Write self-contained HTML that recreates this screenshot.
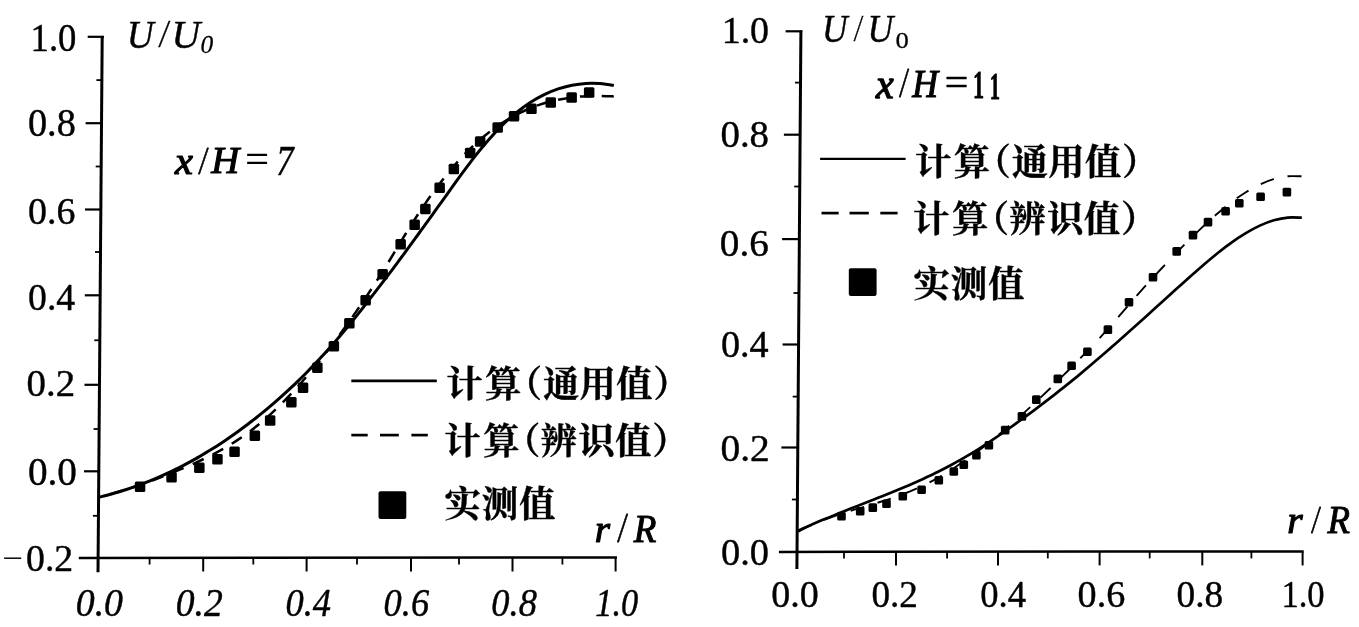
<!DOCTYPE html>
<html lang="zh"><head><meta charset="utf-8"><title>U/U0 velocity profiles, x/H = 7 and x/H = 11</title>
<style>html,body{margin:0;padding:0;background:#fff}body{width:1359px;height:627px;overflow:hidden;font-family:"Liberation Serif",serif}svg{display:block}svg text{font-family:"Liberation Serif",serif}.t{opacity:.999;stroke:#000;stroke-width:.45px;stroke-linejoin:round}svg .lg text{font-family:"Liberation Serif","Noto Serif CJK SC",serif;font-weight:bold;font-size:36.4px;fill:#000;stroke:#000;stroke-width:.4px;stroke-linejoin:round}</style></head><body>
<svg width="1359" height="627" viewBox="0 0 1359 627" fill="#000" stroke="#000" stroke-linecap="butt">
<rect x="0" y="0" width="1359" height="627" fill="#fff" stroke="none"/>
<g id="chart-left">
<line x1="102.2" y1="36" x2="98" y2="572.2" stroke-width="3.0"/>
<line x1="87.7" y1="36.8" x2="104" y2="36.8" stroke-width="2.2"/>
<line x1="85.6" y1="123.2" x2="101.5" y2="123.2" stroke-width="2.2"/>
<line x1="85" y1="209.5" x2="100.8" y2="209.5" stroke-width="2.2"/>
<line x1="84.8" y1="295.3" x2="100.2" y2="295.3" stroke-width="2.2"/>
<line x1="84.5" y1="384.8" x2="99.5" y2="384.8" stroke-width="2.2"/>
<line x1="84" y1="471.3" x2="98.8" y2="471.3" stroke-width="2.2"/>
<line x1="96.4" y1="80.1" x2="101.9" y2="80.1" stroke-width="1.8"/>
<line x1="95.7" y1="166.5" x2="101.2" y2="166.5" stroke-width="1.8"/>
<line x1="95" y1="252" x2="100.5" y2="252" stroke-width="1.8"/>
<line x1="94.3" y1="340.3" x2="99.8" y2="340.3" stroke-width="1.8"/>
<line x1="93.6" y1="429" x2="99.1" y2="429" stroke-width="1.8"/>
<line x1="92.9" y1="515.8" x2="98.4" y2="515.8" stroke-width="1.8"/>
<line x1="78.8" y1="558" x2="617" y2="557.4" stroke-width="2.5"/>
<line x1="203.2" y1="558" x2="203.2" y2="571.5" stroke-width="2.0"/>
<line x1="306.6" y1="558" x2="306.6" y2="571.5" stroke-width="2.0"/>
<line x1="411" y1="558" x2="411" y2="571.5" stroke-width="2.0"/>
<line x1="512.5" y1="558" x2="512.5" y2="571.5" stroke-width="2.0"/>
<line x1="615.6" y1="558" x2="615.6" y2="571.5" stroke-width="2.0"/>
<line x1="149.6" y1="558" x2="149.6" y2="564.5" stroke-width="1.8"/>
<line x1="253.3" y1="558" x2="253.3" y2="564.5" stroke-width="1.8"/>
<line x1="357" y1="558" x2="357" y2="564.5" stroke-width="1.8"/>
<line x1="459" y1="558" x2="459" y2="564.5" stroke-width="1.8"/>
<line x1="562.4" y1="558" x2="562.4" y2="564.5" stroke-width="1.8"/>
<path d="M98.5 497.4C100.8 496.8 107.8 495.1 112.4 493.8C117.1 492.5 121.7 491 126.4 489.5C131 488 135.6 486.4 140.3 484.6C144.9 482.9 149.6 481.1 154.2 479.1C158.9 477.2 163.5 475.1 168.1 472.9C172.8 470.8 177.4 468.5 182.1 466.1C186.7 463.7 191.3 461.2 196 458.6C200.6 455.9 205.3 453.2 209.9 450.3C214.6 447.5 219.2 444.5 223.8 441.4C228.5 438.3 233.1 435 237.8 431.7C242.4 428.3 247.1 424.9 251.7 421.3C256.3 417.7 261 413.9 265.6 410.1C270.3 406.2 274.9 402.3 279.6 398.1C284.2 394 288.8 389.8 293.5 385.4C298.1 380.9 302.8 376.4 307.4 371.7C312 367 316.7 362.1 321.3 357.1C326 352.1 330.6 346.9 335.3 341.5C339.9 336.2 344.5 330.6 349.2 325C353.8 319.3 358.5 313.5 363.1 307.6C367.8 301.7 372.4 295.7 377 289.7C381.7 283.6 386.3 277.5 391 271.3C395.6 265.1 400.3 258.9 404.9 252.6C409.5 246.3 414.2 239.9 418.8 233.5C423.5 227.2 428.1 220.7 432.7 214.3C437.4 207.8 442 201.2 446.7 194.8C451.3 188.3 456 181.7 460.6 175.4C465.2 169.1 469.9 162.8 474.5 156.8C479.2 150.9 483.8 145.2 488.5 139.9C493.1 134.6 497.7 129.7 502.4 125.1C507 120.6 511.7 116.5 516.3 112.7C521 109 525.6 105.6 530.2 102.6C534.9 99.6 539.5 97 544.2 94.7C548.8 92.4 553.4 90.5 558.1 88.9C562.7 87.3 567.4 86.1 572 85.2C576.7 84.3 581.3 83.7 585.9 83.4C590.6 83.1 595.2 83.2 599.9 83.5C604.5 83.9 611.5 85.1 613.8 85.5" fill="none" stroke-width="3.0"/>
<path d="M98.5 497.3C100.8 496.7 107.8 494.9 112.4 493.6C117.1 492.2 121.7 490.8 126.4 489.4C131 487.9 135.6 486.4 140.3 484.8C144.9 483.2 149.6 481.5 154.2 479.8C158.9 478.1 163.5 476.3 168.1 474.4C172.8 472.6 177.4 470.6 182.1 468.7C186.7 466.7 191.3 464.7 196 462.6C200.6 460.4 205.3 458.3 209.9 455.9C214.6 453.6 219.2 451.1 223.8 448.5C228.5 445.8 233.1 443 237.8 439.9C242.4 436.8 247.1 433.6 251.7 430C256.3 426.4 261 422.6 265.6 418.6C270.3 414.5 274.9 410.2 279.6 405.6C284.2 401.1 288.8 396.3 293.5 391.3C298.1 386.3 302.8 381.1 307.4 375.6C312 370.2 316.7 364.6 321.3 358.7C326 352.9 330.6 346.9 335.3 340.7C339.9 334.5 344.5 328.1 349.2 321.6C353.8 315 358.5 308.3 363.1 301.4C367.8 294.6 372.4 287.6 377 280.4C381.7 273.1 386.3 265.6 391 258C395.6 250.5 400.3 242.5 404.9 235C409.5 227.5 414.2 220.1 418.8 213.1C423.5 206.1 428.1 199.3 432.7 192.9C437.4 186.5 442 180.4 446.7 174.6C451.3 168.9 456 163.5 460.6 158.5C465.2 153.5 469.9 148.8 474.5 144.5C479.2 140.3 483.8 136.3 488.5 132.7C493.1 129.1 497.7 125.8 502.4 122.8C507 119.8 511.7 117.1 516.3 114.7C521 112.3 525.6 110.1 530.2 108.2C534.9 106.3 539.5 104.7 544.2 103.3C548.8 101.9 553.4 100.7 558.1 99.7C562.7 98.8 567.4 98 572 97.4C576.7 96.8 581.3 96.4 585.9 96.2C590.6 95.9 595.2 95.8 599.9 95.9C604.5 95.9 611.5 96.3 613.8 96.4" fill="none" stroke-width="2.5" stroke-dasharray="12 10" stroke-dashoffset="9.9"/>
<g stroke="none">
<rect x="134.8" y="481.6" width="10.5" height="10.5" rx="1.5"/>
<rect x="166.3" y="471.9" width="10.5" height="10.5" rx="1.5"/>
<rect x="194.1" y="462.6" width="10.5" height="10.5" rx="1.5"/>
<rect x="212.2" y="454.1" width="10.5" height="10.5" rx="1.5"/>
<rect x="229.3" y="446.4" width="10.5" height="10.5" rx="1.5"/>
<rect x="249.6" y="430.4" width="10.5" height="10.5" rx="1.5"/>
<rect x="264.9" y="415.2" width="10.5" height="10.5" rx="1.5"/>
<rect x="286.1" y="397.1" width="10.5" height="10.5" rx="1.5"/>
<rect x="297.8" y="382.6" width="10.5" height="10.5" rx="1.5"/>
<rect x="312.1" y="362.4" width="10.5" height="10.5" rx="1.5"/>
<rect x="328.6" y="341.1" width="10.5" height="10.5" rx="1.5"/>
<rect x="344.1" y="317.9" width="10.5" height="10.5" rx="1.5"/>
<rect x="360.4" y="294.9" width="10.5" height="10.5" rx="1.5"/>
<rect x="377.4" y="269.1" width="10.5" height="10.5" rx="1.5"/>
<rect x="395.4" y="239.1" width="10.5" height="10.5" rx="1.5"/>
<rect x="409.4" y="219.6" width="10.5" height="10.5" rx="1.5"/>
<rect x="420.1" y="203.7" width="10.5" height="10.5" rx="1.5"/>
<rect x="434.4" y="182.4" width="10.5" height="10.5" rx="1.5"/>
<rect x="448.6" y="163.7" width="10.5" height="10.5" rx="1.5"/>
<rect x="464.9" y="147.8" width="10.5" height="10.5" rx="1.5"/>
<rect x="474.9" y="136.2" width="10.5" height="10.5" rx="1.5"/>
<rect x="492.4" y="122.3" width="10.5" height="10.5" rx="1.5"/>
<rect x="508.8" y="111" width="10.5" height="10.5" rx="1.5"/>
<rect x="526.2" y="103.5" width="10.5" height="10.5" rx="1.5"/>
<rect x="545.5" y="97.3" width="10.5" height="10.5" rx="1.5"/>
<rect x="566.4" y="92.3" width="10.5" height="10.5" rx="1.5"/>
<rect x="583.9" y="87.2" width="10.5" height="10.5" rx="1.5"/>
</g>
<g class="t">
<text transform="translate(30.6 51.3) scale(0.9164 0.9975)" font-size="40">1.0</text>
<text transform="translate(28 136) scale(0.9563 0.9791)" font-size="40">0.8</text>
<text transform="translate(28.1 224.1) scale(0.9474 0.9681)" font-size="40">0.6</text>
<text transform="translate(28.1 309.5) scale(0.9425 0.9644)" font-size="40">0.4</text>
<text transform="translate(26.6 395.5) scale(0.9726 0.9644)" font-size="40">0.2</text>
<text transform="translate(27.9 485.4) scale(0.9797 0.9938)" font-size="40">0.0</text>
<text transform="translate(26 570.8) scale(0.9445 0.9607)" font-size="40">0.2</text>
<text transform="translate(1.9 568.2) scale(0.9187 0.7529)" font-size="40" style="stroke-width:0px">−</text>
<text transform="translate(75.7 616.2) scale(0.9468 0.9865)" font-size="40" font-style="italic">0.0</text>
<text transform="translate(175.7 616.2) scale(0.9416 0.9865)" font-size="40" font-style="italic">0.2</text>
<text transform="translate(285.4 616.2) scale(0.9126 0.9865)" font-size="40" font-style="italic">0.4</text>
<text transform="translate(383.6 616.2) scale(0.9096 0.9865)" font-size="40" font-style="italic">0.6</text>
<text transform="translate(491.3 616.2) scale(0.9124 0.9865)" font-size="40" font-style="italic">0.8</text>
<text transform="translate(595.3 616.2) scale(0.8592 0.9865)" font-size="40" font-style="italic">1.0</text>
<text transform="translate(126.8 47.9) scale(0.9349 1.0007)" font-size="40" font-style="italic">U</text>
<text transform="translate(159.8 46.9) scale(0.7439 1.0053)" font-size="40" font-style="italic">/</text>
<text transform="translate(171.6 47.9) scale(0.9933 1.0007)" font-size="40" font-style="italic">U</text>
<text transform="translate(200.6 53.4) scale(0.6351 0.6113)" font-size="40" font-style="italic">0</text>
<text transform="translate(175.1 173.6) scale(1.0084 0.9369)" font-size="40" font-style="italic" style="stroke-width:1.3px">x</text>
<text transform="translate(199.4 173.5) scale(0.6377 1.0053)" font-size="40" font-style="italic" style="stroke-width:0.8px">/</text>
<text transform="translate(211.2 172.5) scale(0.9706 0.9431)" font-size="40" font-style="italic" style="stroke-width:1.2px">H</text>
<text transform="translate(242.6 172.1) scale(1.0530 0.9300)" font-size="40" font-style="italic">=</text>
<text transform="translate(276.3 175) scale(0.8674 1.0347)" font-size="40" font-style="italic">7</text>
<text transform="translate(594.7 541.8) scale(0.9813 0.9444)" font-size="40" font-style="italic" style="stroke-width:1.2px">r</text>
<text transform="translate(618.4 542.4) scale(0.6627 1.0352)" font-size="40" font-style="italic" style="stroke-width:0.8px">/</text>
<text transform="translate(633.8 541.5) scale(0.9256 1.0156)" font-size="40" font-style="italic" style="stroke-width:1.1px">R</text>
</g>
<g transform="translate(0 0)">
<line x1="351.3" y1="380.8" x2="436.8" y2="380.8" stroke-width="2.7"/>
<line x1="351.3" y1="435.1" x2="367.7" y2="435.1" stroke-width="2.7"/>
<line x1="380" y1="435.1" x2="398.8" y2="435.1" stroke-width="2.7"/>
<line x1="411.4" y1="435.1" x2="427.8" y2="435.1" stroke-width="2.7"/>
<rect x="378.5" y="491.2" width="27.8" height="27.8" rx="2" stroke="none"/>
<g class="lg">
<text x="446.3 485 505.7 542.9 579.5 615.9 653.2" y="397.1">计算（通用值）</text>
<text x="444.2 483.2 503.9 540.5 578.2 615 652.3" y="453.8">计算（辨识值）</text>
<text x="444.5 481.7 518.9" y="517.1">实测值</text>
</g>
</g>
</g>
<g id="chart-right">
<line x1="800.9" y1="30.5" x2="796.9" y2="569" stroke-width="3.0"/>
<line x1="785.6" y1="31.3" x2="802.3" y2="31.3" stroke-width="2.2"/>
<line x1="783.9" y1="134.7" x2="800.1" y2="134.7" stroke-width="2.2"/>
<line x1="782.1" y1="239.1" x2="799.4" y2="239.1" stroke-width="2.2"/>
<line x1="782.6" y1="344.5" x2="798.6" y2="344.5" stroke-width="2.2"/>
<line x1="781.4" y1="447.5" x2="797.8" y2="447.5" stroke-width="2.2"/>
<line x1="795" y1="82.6" x2="800.5" y2="82.6" stroke-width="1.8"/>
<line x1="794.2" y1="186.5" x2="799.7" y2="186.5" stroke-width="1.8"/>
<line x1="793.5" y1="293" x2="799" y2="293" stroke-width="1.8"/>
<line x1="792.7" y1="396.6" x2="798.2" y2="396.6" stroke-width="1.8"/>
<line x1="791.9" y1="499.5" x2="797.4" y2="499.5" stroke-width="1.8"/>
<line x1="778.9" y1="551.9" x2="1303.7" y2="551.4" stroke-width="2.5"/>
<line x1="896" y1="551.9" x2="896" y2="565.4" stroke-width="2.0"/>
<line x1="998" y1="551.9" x2="998" y2="565.4" stroke-width="2.0"/>
<line x1="1099.6" y1="551.9" x2="1099.6" y2="565.4" stroke-width="2.0"/>
<line x1="1202.3" y1="551.9" x2="1202.3" y2="565.4" stroke-width="2.0"/>
<line x1="1302.6" y1="551.9" x2="1302.6" y2="565.4" stroke-width="2.0"/>
<line x1="844" y1="551.9" x2="844" y2="558.4" stroke-width="1.8"/>
<line x1="947.1" y1="551.9" x2="947.1" y2="558.4" stroke-width="1.8"/>
<line x1="1047.8" y1="551.9" x2="1047.8" y2="558.4" stroke-width="1.8"/>
<line x1="1149.7" y1="551.9" x2="1149.7" y2="558.4" stroke-width="1.8"/>
<line x1="1251.4" y1="551.9" x2="1251.4" y2="558.4" stroke-width="1.8"/>
<path d="M797.5 531C799.8 529.9 806.8 526.7 811.5 524.7C816.2 522.7 820.8 520.7 825.5 518.8C830.2 516.8 834.9 515 839.5 513.1C844.2 511.2 848.9 509.4 853.5 507.5C858.2 505.7 862.9 503.9 867.5 502.1C872.2 500.2 876.9 498.4 881.5 496.5C886.2 494.7 890.9 492.8 895.6 490.8C900.2 488.9 904.9 486.9 909.6 484.9C914.2 482.9 918.9 480.8 923.6 478.7C928.2 476.5 932.9 474.3 937.6 472C942.3 469.6 946.9 467.2 951.6 464.7C956.3 462.2 960.9 459.6 965.6 456.9C970.3 454.1 974.9 451.3 979.6 448.3C984.3 445.4 988.9 442.3 993.6 439.1C998.3 436 1003 432.8 1007.6 429.5C1012.3 426.2 1017 422.8 1021.6 419.4C1026.3 416 1031 412.6 1035.6 409.1C1040.3 405.6 1045 402 1049.7 398.4C1054.3 394.8 1059 391.2 1063.7 387.4C1068.3 383.7 1073 379.9 1077.7 376.1C1082.3 372.2 1087 368.3 1091.7 364.3C1096.3 360.3 1101 356.3 1105.7 352.2C1110.4 348.2 1115 344.1 1119.7 339.9C1124.4 335.8 1129 331.6 1133.7 327.5C1138.4 323.3 1143 319.1 1147.7 314.9C1152.4 310.7 1157 306.5 1161.7 302.3C1166.4 298.1 1171.1 293.9 1175.7 289.6C1180.4 285.4 1185.1 281.2 1189.7 277C1194.4 272.9 1199.1 268.7 1203.7 264.7C1208.4 260.7 1213.1 256.8 1217.8 253C1222.4 249.3 1227.1 245.7 1231.8 242.4C1236.4 239 1241.1 235.9 1245.8 233.1C1250.4 230.3 1255.1 227.8 1259.8 225.6C1264.4 223.5 1269.1 221.7 1273.8 220.3C1278.5 219 1283.1 218 1287.8 217.6C1292.5 217.1 1299.5 217.7 1301.8 217.7" fill="none" stroke-width="2.7"/>
<path d="M797.5 532.1C799.8 530.9 806.8 527.2 811.5 525.1C816.2 523 820.8 521.1 825.5 519.3C830.2 517.5 834.8 515.9 839.5 514.4C844.2 512.8 848.8 511.4 853.5 509.9C858.2 508.5 862.8 507.2 867.5 505.8C872.2 504.4 876.8 503 881.5 501.5C886.2 500.1 890.8 498.6 895.5 496.9C900.2 495.3 904.8 493.6 909.5 491.7C914.2 489.7 918.8 487.7 923.5 485.4C928.2 483.2 932.8 480.7 937.5 478.1C942.2 475.4 946.8 472.6 951.5 469.6C956.2 466.6 960.8 463.5 965.5 460.2C970.2 456.9 974.8 453.5 979.5 450C984.2 446.4 988.8 442.8 993.5 439C998.2 435.2 1002.8 431.3 1007.5 427.4C1012.2 423.4 1016.8 419.3 1021.5 415.1C1026.2 410.9 1030.8 406.6 1035.5 402.3C1040.2 397.9 1044.8 393.5 1049.5 389C1054.2 384.5 1058.8 379.9 1063.5 375.2C1068.2 370.6 1072.8 365.9 1077.5 361.1C1082.2 356.4 1086.8 351.6 1091.5 346.7C1096.2 341.8 1100.8 336.9 1105.5 331.7C1110.2 326.5 1114.8 321.1 1119.5 315.7C1124.2 310.3 1128.8 304.7 1133.5 299.4C1138.2 294.1 1142.8 288.8 1147.5 283.7C1152.2 278.5 1156.8 273.5 1161.5 268.5C1166.2 263.5 1170.8 258.6 1175.5 253.8C1180.2 249 1184.8 244.2 1189.5 239.6C1194.2 235 1198.8 230.5 1203.5 226.1C1208.2 221.8 1212.8 217.5 1217.5 213.6C1222.2 209.6 1226.8 205.8 1231.5 202.2C1236.2 198.7 1240.8 195.4 1245.5 192.5C1250.2 189.6 1254.8 186.9 1259.5 184.7C1264.2 182.5 1268.8 180.6 1273.5 179.2C1278.2 177.7 1282.8 176.7 1287.5 176.3C1292.2 175.8 1299.2 176.3 1301.5 176.3" fill="none" stroke-width="1.9" stroke-dasharray="14 14" stroke-dashoffset="26.6"/>
<g stroke="none">
<rect x="837.2" y="512" width="8.6" height="8.6" rx="1.5"/>
<rect x="855.9" y="507" width="8.6" height="8.6" rx="1.5"/>
<rect x="868.5" y="503.3" width="8.6" height="8.6" rx="1.5"/>
<rect x="882.2" y="499.5" width="8.6" height="8.6" rx="1.5"/>
<rect x="898.5" y="492" width="8.6" height="8.6" rx="1.5"/>
<rect x="917.3" y="485.5" width="8.6" height="8.6" rx="1.5"/>
<rect x="934.5" y="475.9" width="8.6" height="8.6" rx="1.5"/>
<rect x="949.5" y="467.2" width="8.6" height="8.6" rx="1.5"/>
<rect x="959.5" y="460.4" width="8.6" height="8.6" rx="1.5"/>
<rect x="972.1" y="450.9" width="8.6" height="8.6" rx="1.5"/>
<rect x="984.6" y="440.9" width="8.6" height="8.6" rx="1.5"/>
<rect x="1000.9" y="425.8" width="8.6" height="8.6" rx="1.5"/>
<rect x="1017.6" y="412.1" width="8.6" height="8.6" rx="1.5"/>
<rect x="1032" y="395.3" width="8.6" height="8.6" rx="1.5"/>
<rect x="1053.5" y="374.6" width="8.6" height="8.6" rx="1.5"/>
<rect x="1067.3" y="361.4" width="8.6" height="8.6" rx="1.5"/>
<rect x="1083.1" y="347.5" width="8.6" height="8.6" rx="1.5"/>
<rect x="1103.6" y="325.3" width="8.6" height="8.6" rx="1.5"/>
<rect x="1124.7" y="297.9" width="8.6" height="8.6" rx="1.5"/>
<rect x="1148.7" y="272.9" width="8.6" height="8.6" rx="1.5"/>
<rect x="1172.4" y="247.1" width="8.6" height="8.6" rx="1.5"/>
<rect x="1188.7" y="230.8" width="8.6" height="8.6" rx="1.5"/>
<rect x="1203.7" y="217.8" width="8.6" height="8.6" rx="1.5"/>
<rect x="1221.3" y="207" width="8.6" height="8.6" rx="1.5"/>
<rect x="1235" y="199" width="8.6" height="8.6" rx="1.5"/>
<rect x="1256.3" y="192.5" width="8.6" height="8.6" rx="1.5"/>
<rect x="1282.6" y="187.8" width="8.6" height="8.6" rx="1.5"/>
</g>
<g class="t">
<text transform="translate(721.7 42.8) scale(0.9475 0.9496)" font-size="40">1.0</text>
<text transform="translate(720.5 146.5) scale(0.9712 0.9570)" font-size="40">0.8</text>
<text transform="translate(719.8 255.5) scale(0.9792 0.9570)" font-size="40">0.6</text>
<text transform="translate(721 357.3) scale(0.9529 0.9681)" font-size="40">0.4</text>
<text transform="translate(720.5 461.2) scale(0.9855 0.9681)" font-size="40">0.2</text>
<text transform="translate(721 564.6) scale(0.9605 0.9644)" font-size="40">0.0</text>
<text transform="translate(771.2 606.6) scale(0.9499 0.9717)" font-size="40">0.0</text>
<text transform="translate(871.4 606.6) scale(0.9293 0.9717)" font-size="40">0.2</text>
<text transform="translate(980.3 606.6) scale(0.9153 0.9717)" font-size="40">0.4</text>
<text transform="translate(1077.6 606.6) scale(0.9538 0.9717)" font-size="40">0.6</text>
<text transform="translate(1176.6 606.6) scale(0.9328 0.9717)" font-size="40">0.8</text>
<text transform="translate(1281.4 606.6) scale(0.8630 0.9717)" font-size="40">1.0</text>
<text transform="translate(822 41.5) scale(0.8838 0.9819)" font-size="40" font-style="italic">U</text>
<text transform="translate(854.8 40.9) scale(0.6064 0.9717)" font-size="40" font-style="italic">/</text>
<text transform="translate(867.6 41.6) scale(0.8911 0.9856)" font-size="40" font-style="italic">U</text>
<text transform="translate(895.6 48) scale(0.6665 0.5965)" font-size="40">0</text>
<text transform="translate(876.1 97.9) scale(0.9973 1.0077)" font-size="40" font-style="italic" style="stroke-width:1.3px">x</text>
<text transform="translate(900.3 97.1) scale(0.6189 1.0277)" font-size="40" font-style="italic" style="stroke-width:0.8px">/</text>
<text transform="translate(912.3 96.8) scale(0.8935 0.9774)" font-size="40" font-style="italic" style="stroke-width:1.2px">H</text>
<text transform="translate(942.1 96) scale(1.0530 0.9800)" font-size="40" font-style="italic">=</text>
<text transform="translate(973 98.3) scale(0.5568 0.9770)" font-size="40" font-weight="bold" style="stroke-width:0.9px">1</text>
<text transform="translate(989.7 98.7) scale(0.5161 0.9733)" font-size="40" font-weight="bold" style="stroke-width:0.9px">1</text>
<text transform="translate(1287.3 533.4) scale(0.9884 0.9497)" font-size="40" font-style="italic" style="stroke-width:1.2px">r</text>
<text transform="translate(1312.3 533.1) scale(0.6064 1.0203)" font-size="40" font-style="italic" style="stroke-width:0.8px">/</text>
<text transform="translate(1327.4 532.5) scale(0.9214 0.9965)" font-size="40" font-style="italic" style="stroke-width:1.0px">R</text>
</g>
<g transform="translate(468.8 -222)">
<line x1="351.3" y1="380.8" x2="436.8" y2="380.8" stroke-width="2.3"/>
<line x1="352.7" y1="435.1" x2="369.9" y2="435.1" stroke-width="2.7"/>
<line x1="380.7" y1="435.1" x2="400" y2="435.1" stroke-width="2.7"/>
<line x1="411.5" y1="435.1" x2="428.8" y2="435.1" stroke-width="2.7"/>
<rect x="380" y="490.2" width="27.8" height="27.8" rx="2" stroke="none"/>
<g class="lg">
<text x="446.3 485 505.7 542.9 579.5 615.9 653.2" y="397.1">计算（通用值）</text>
<text x="444.2 483.2 503.9 540.5 578.2 615 652.3" y="453.8">计算（辨识值）</text>
<text x="444.8 482 519.2" y="518.7">实测值</text>
</g>
</g>
</g>
</svg></body></html>
